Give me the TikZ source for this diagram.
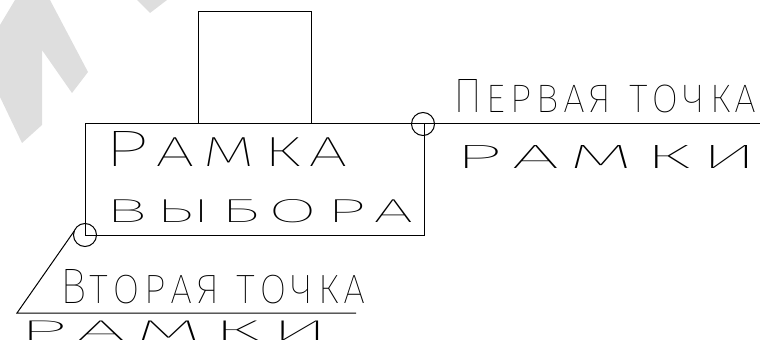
\documentclass[tikz,border=0pt]{standalone}
\usepackage{fontspec}
\usepackage{graphicx}
\IfFontExistsTF{Fira Sans Thin}{\newfontfamily\cadfont{Fira Sans Thin}[Letters=SmallCaps,Kerning=Off,LetterSpace=8]}{%
 \IfFontExistsTF{Fira Sans ExtraLight}{\newfontfamily\cadfont{Fira Sans ExtraLight}[Letters=SmallCaps,Kerning=Off,LetterSpace=8]}{%
  \IfFontExistsTF{DejaVu Sans ExtraLight}{\newfontfamily\cadfont{DejaVu Sans ExtraLight}[LetterSpace=8]}{%
   \IfFontExistsTF{Fira Sans Light}{\newfontfamily\cadfont{Fira Sans Light}[Letters=SmallCaps,Kerning=Off,LetterSpace=8]}{%
    \newfontfamily\cadfont{DejaVu Sans}[LetterSpace=8]}}}}
\newcommand{\cadtxt}[3]{\resizebox{#1pt}{#2pt}{\fontsize{40}{40}\selectfont\cadfont #3\kern-3pt}}
\begin{document}
\begin{tikzpicture}[x=1pt,y=1pt,line width=1pt,
  shapebox/.style={draw, inner sep=0pt, outer sep=0pt},
  pick/.style={draw, circle, minimum size=23pt, inner sep=0pt, outer sep=0pt},
  cadlabel/.style={anchor=base west, inner sep=0pt, outer sep=0pt},
  wmark/.style={fill=black!13, draw=none}]
\clip (0,0) rectangle (760,343);
% faint watermark
\fill[wmark] (15,343) -- (50,343) -- (88,271) -- (72,250) -- (42,293) -- (42,218) -- (22,200) -- (0,246) -- (0,318) -- cycle;
\fill[wmark] (137,343) -- (167,343) -- (150,330) -- cycle;
% shapes
\node[shapebox, minimum width=113pt, minimum height=112pt, anchor=north west] (sq) at (198,331) {};
\node[shapebox, minimum width=339pt, minimum height=111pt, anchor=north west] (frame) at (85,219) {};
\node[pick] (p1) at (423,219) {};
\node[pick] (p2) at (85,108) {};
\coordinate (tr) at (760,219);
\coordinate (bl) at (17,30);
\coordinate (br) at (356,30);
\draw (frame.north west) -- (tr);
\draw (p2.160) -- (bl) -- (br);
% texts
\node[cadlabel] (t1) at (453,230) {\cadtxt{300}{33}{Первая точка}};
\node[cadlabel] (t2) at (453,174) {\cadtxt{299}{23}{рамки}};
\node[cadlabel] (t3) at (104,176) {\cadtxt{238}{35}{Рамка}};
\node[cadlabel] (t4) at (104,121) {\cadtxt{304}{23}{выбора}};
\node[cadlabel] (t5) at (60,40) {\cadtxt{302}{34}{Вторая точка}};
\node[cadlabel] (t6) at (17,2.5) {\cadtxt{306}{19.5}{рамки}};
\end{tikzpicture}
\end{document}
